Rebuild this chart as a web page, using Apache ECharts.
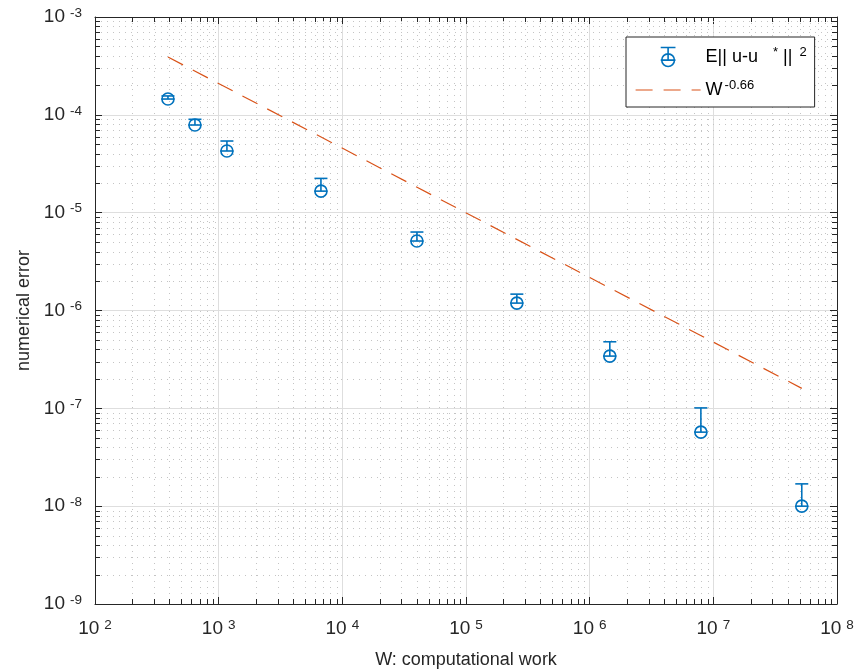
<!DOCTYPE html>
<html>
<head>
<meta charset="utf-8">
<script src="https://cdn.jsdelivr.net/npm/echarts@6/dist/echarts.min.js"></script>
<style>
  html, body { margin: 0; padding: 0; background: #fff; }
  #chart { width: 857px; height: 672px; }
</style>
</head>
<body>
<div id="chart"></div>
<script>
// computational work W and the mean error, with the upper end of each error bar
const work = [389, 643, 1166, 6714, 40100, 257700, 1455000, 7930000, 51900000];
const errMean = [1.45e-4, 7.87e-5, 4.27e-5, 1.66e-5, 5.13e-6, 1.19e-6, 3.42e-7, 5.71e-8, 1.0e-8];
const errUpper = [1.56e-4, 9.0e-5, 5.4e-5, 2.24e-5, 6.34e-6, 1.47e-6, 4.79e-7, 1.01e-7, 1.69e-8];

// reference slope line W^-0.66 (end points)
const refWork = [389, 51900000];
const refErr = [3.9e-4, 1.6e-7];

// decades of the axes and the minor steps inside a decade
const xDecades = [1e2, 1e3, 1e4, 1e5, 1e6, 1e7];
const yDecades = [1e-9, 1e-8, 1e-7, 1e-6, 1e-5, 1e-4];
const minorSteps = [2, 3, 4, 5, 6, 7, 8, 9];

const blue = '#0072BD';
const orange = '#D95319';
const ink = '#262626';
const font = 'Liberation Sans';

const xMinor = [];
xDecades.forEach(d => minorSteps.forEach(s => xMinor.push([d * s, 1e-6])));
const yMinor = [];
yDecades.forEach(d => minorSteps.forEach(s => yMinor.push([1e3, d * s])));

const chart = echarts.init(document.getElementById('chart'));

const crisp = v => Math.round(v) + 0.5;

function minorXItem(params, api) {
  const cs = params.coordSys;
  const x = crisp(api.coord([api.value(0), 1e-6])[0]);
  const top = cs.y, bottom = cs.y + cs.height;
  return {
    type: 'group',
    children: [
      { type: 'line', shape: { x1: x, y1: top, x2: x, y2: bottom },
        style: { stroke: '#c4c4c4', lineWidth: 1, lineDash: [1, 5] } },
      { type: 'line', shape: { x1: x, y1: bottom, x2: x, y2: bottom - 5 },
        style: { stroke: ink, lineWidth: 1 } },
      { type: 'line', shape: { x1: x, y1: top, x2: x, y2: top + 5 },
        style: { stroke: ink, lineWidth: 1 } }
    ]
  };
}

function minorYItem(params, api) {
  const cs = params.coordSys;
  const y = crisp(api.coord([1e3, api.value(1)])[1]);
  const left = cs.x, right = cs.x + cs.width;
  return {
    type: 'group',
    children: [
      { type: 'line', shape: { x1: left, y1: y, x2: right, y2: y },
        style: { stroke: '#c4c4c4', lineWidth: 1, lineDash: [1, 5] } },
      { type: 'line', shape: { x1: left, y1: y, x2: left + 5, y2: y },
        style: { stroke: ink, lineWidth: 1 } },
      { type: 'line', shape: { x1: right, y1: y, x2: right - 5, y2: y },
        style: { stroke: ink, lineWidth: 1 } }
    ]
  };
}

function errorBarItem(params, api) {
  const c = api.coord([api.value(0), api.value(1)]);
  const u = api.coord([api.value(0), api.value(2)]);
  const hw = 6.5;
  const st = { stroke: blue, lineWidth: 1.6, fill: 'none' };
  return {
    type: 'group',
    children: [
      { type: 'line', shape: { x1: c[0], y1: c[1], x2: c[0], y2: u[1] }, style: st },
      { type: 'line', shape: { x1: c[0] - hw, y1: u[1], x2: c[0] + hw, y2: u[1] }, style: st },
      { type: 'line', shape: { x1: c[0] - hw, y1: c[1], x2: c[0] + hw, y2: c[1] }, style: st },
      { type: 'circle', shape: { cx: c[0], cy: c[1], r: 6 }, style: st }
    ]
  };
}

const powRich = {
  b: { fontFamily: font, fontSize: 19, color: ink, lineHeight: 22 },
  e: { fontFamily: font, fontSize: 13.5, color: ink, verticalAlign: 'top', padding: [0, 0, 0, 5] }
};
const powLabel = v => '{b|10}{e|' + Math.round(Math.log10(v)) + '}';

const mainAxisLine = { show: true, lineStyle: { color: ink, width: 1 } };
const majorTick = { show: true, inside: true, length: 7, lineStyle: { color: ink } };
const gridLine = { show: true, lineStyle: { color: '#dedede', width: 1 } };

const option = {
  animation: false,
  backgroundColor: '#fff',
  grid: { left: 95, right: 20, top: 17, bottom: 68, containLabel: false, outerBoundsMode: 'none' },
  xAxis: [
    {
      type: 'log', logBase: 10, min: 1e2, max: 1e8, splitNumber: 6,
      name: 'W: computational work', nameLocation: 'middle', nameGap: 47,
      nameTextStyle: { fontFamily: font, fontSize: 18, color: ink },
      axisLine: mainAxisLine, axisTick: majorTick, splitLine: gridLine,
      minorTick: { show: false }, minorSplitLine: { show: false },
      axisLabel: { margin: 14, formatter: powLabel, rich: powRich }
    },
    {
      type: 'log', logBase: 10, min: 1e2, max: 1e8, splitNumber: 6, position: 'top',
      axisLine: mainAxisLine, axisTick: majorTick, splitLine: { show: false },
      axisLabel: { show: false }
    }
  ],
  yAxis: [
    {
      type: 'log', logBase: 10, min: 1e-9, max: 1e-3, splitNumber: 6,
      name: 'numerical error', nameLocation: 'middle', nameGap: 62,
      nameTextStyle: { fontFamily: font, fontSize: 18, color: ink },
      axisLine: mainAxisLine, axisTick: majorTick, splitLine: gridLine,
      minorTick: { show: false }, minorSplitLine: { show: false },
      axisLabel: { margin: 13, formatter: powLabel, rich: powRich }
    },
    {
      type: 'log', logBase: 10, min: 1e-9, max: 1e-3, splitNumber: 6, position: 'right',
      axisLine: mainAxisLine, axisTick: majorTick, splitLine: { show: false },
      axisLabel: { show: false }
    }
  ],
  legend: {
    left: 626, top: 37, orient: 'vertical',
    backgroundColor: '#fff', borderColor: ink, borderWidth: 1,
    padding: [8, 8, 8, 9],
    itemWidth: 65, itemHeight: 19, itemGap: 10,
    data: [
      {
        name: 'err',
        icon: 'path://M7,0L7,12M0,0L14,0M0,12L14,12M13,12A6,6,0,1,1,1,12A6,6,0,1,1,13,12',
        itemStyle: { color: 'none', borderColor: blue, borderWidth: 1.6 }
      },
      {
        name: 'ref',
        itemStyle: { color: 'transparent', borderColor: 'transparent', borderWidth: 0, opacity: 0 },
        lineStyle: { color: orange, width: 1.2, type: [17, 11] }
      }
    ],
    formatter: name => name === 'err'
      ? '{t|E|| u-u }{sa|*}{t| || }{s|2}'
      : '{t|W}{s|-0.66}',
    textStyle: {
      rich: {
        t: { fontFamily: font, fontSize: 18, color: '#000', lineHeight: 22 },
        s: { fontFamily: font, fontSize: 13, color: '#000', verticalAlign: 'top', padding: [0, 0, 0, 2] },
        sa: { fontFamily: font, fontSize: 13, color: '#000', verticalAlign: 'top', padding: [0, 0, 0, 10] }
      }
    }
  },
  series: [
    {
      type: 'custom', name: 'minorX', silent: true, z: 1,
      renderItem: minorXItem, data: xMinor, clip: true
    },
    {
      type: 'custom', name: 'minorY', silent: true, z: 1,
      renderItem: minorYItem, data: yMinor, clip: true
    },
    {
      type: 'line', name: 'ref', z: 3,
      data: refWork.map((w, i) => [w, refErr[i]]),
      showSymbol: false, symbol: 'none',
      itemStyle: { color: orange },
      lineStyle: { color: orange, width: 1.2, type: [17, 11] }
    },
    {
      type: 'custom', name: 'err', z: 4,
      renderItem: errorBarItem,
      itemStyle: { color: blue },
      encode: { x: 0, y: [1, 2] },
      data: work.map((w, i) => [w, errMean[i], errUpper[i]])
    }
  ]
};

chart.setOption(option);
</script>
</body>
</html>
